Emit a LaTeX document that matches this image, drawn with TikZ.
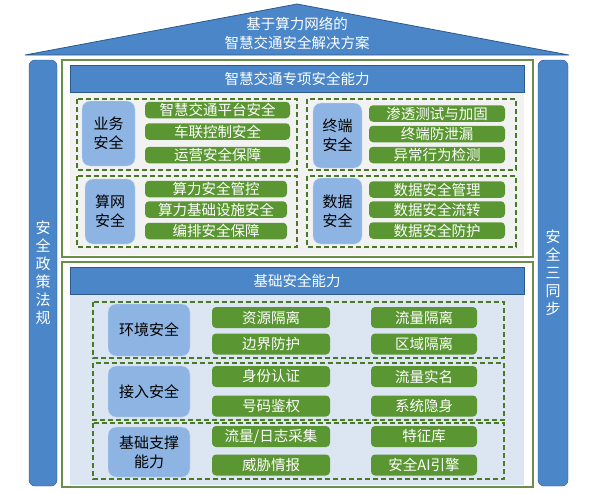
\documentclass[tikz,border=0pt]{standalone}
\usepackage{fontspec}
\setmainfont{Noto Sans CJK SC}
\usetikzlibrary{positioning}
\definecolor{barblue}{HTML}{4A86C8}
\definecolor{edgeblue}{HTML}{2C5A8C}
\definecolor{catblue}{HTML}{8DB4E2}
\definecolor{itemgreen}{HTML}{5A9632}
\definecolor{dashgreen}{HTML}{4A7A26}
\definecolor{framegreen}{HTML}{6A8F4A}
\definecolor{upperfill}{HTML}{F2F2F2}
\definecolor{lowerfill}{HTML}{DCE6F2}

\begin{document}
\begin{tikzpicture}[x=1pt, y=-1pt, font=\fontsize{14.5}{17}\selectfont]
\tikzset{
  roof/.style={fill=barblue, draw=edgeblue, line width=0.8pt},
  sidebar/.style={rectangle, rounded corners=6pt, fill=barblue, draw=edgeblue, text=white, minimum height=426pt, align=center, inner sep=0pt, font=\fontsize{15}{18}\selectfont},
  header/.style={rectangle, fill=barblue, draw=edgeblue, line width=1pt, text=white, minimum width=454pt, minimum height=27pt, inner sep=0pt},
  frame/.style={draw=framegreen, line width=1.2pt},
  group/.style={draw=dashgreen, line width=1.2pt, dash pattern=on 5pt off 3pt},
  cat/.style={rectangle, rounded corners=8pt, fill=catblue, draw=white!55!catblue, align=center, inner sep=0pt, font=\fontsize{15}{19}\selectfont},
  item/.style={rectangle, rounded corners=4pt, fill=itemgreen, text=white, inner sep=0pt},
}
\useasboundingbox (0,0) rectangle (593,493);

% roof
\draw[roof] (25,55) -- (297,4) -- (569,55) -- cycle;
\node[text=white, align=center, font=\fontsize{14.5}{19}\selectfont] (title) at (297,33.5) {基于算力网络的\\智慧交通安全解决方案};

% side pillars
\node[sidebar, minimum width=28pt] (policy) at (43,273) {安\\全\\政\\策\\法\\规};
\node[sidebar, minimum width=30pt] (sync) at (553,273) {安\\全\\三\\同\\步};

% upper part
\draw[frame] (62,60) rectangle (533,257);
\fill[upperfill] (70,65) rectangle (524,255);
\node[header] (special) at (297,78.5) {智慧交通专项安全能力};

\draw[group] (77,99) rectangle (297,170);
\draw[group] (307,99) rectangle (516,170);
\draw[group] (77,176) rectangle (297,247);
\draw[group] (307,176) rectangle (516,247);

\node[cat, minimum width=53pt, minimum height=65pt] (biz) at (108.5,133.5) {业务\\安全};
\node[item, minimum width=145pt, minimum height=16.5pt] (biz1) at (217.5,110) {智慧交通平台安全};
\node[item, minimum width=145pt, minimum height=16.5pt] (biz2) at (217.5,131.5) {车联控制安全};
\node[item, minimum width=145pt, minimum height=16.5pt] (biz3) at (217.5,155) {运营安全保障};

\node[cat, minimum width=49pt, minimum height=65pt] (term) at (337.5,135.5) {终端\\安全};
\node[item, minimum width=136pt, minimum height=16.5pt] (term1) at (437,113.5) {渗透测试与加固};
\node[item, minimum width=136pt, minimum height=16.5pt] (term2) at (437,134) {终端防泄漏};
\node[item, minimum width=136pt, minimum height=16.5pt] (term3) at (437,155) {异常行为检测};

\node[cat, minimum width=50pt, minimum height=65pt] (net) at (110,211.5) {算网\\安全};
\node[item, minimum width=142pt, minimum height=16.5pt] (net1) at (216,189) {算力安全管控};
\node[item, minimum width=142pt, minimum height=16.5pt] (net2) at (216,209.5) {算力基础设施安全};
\node[item, minimum width=142pt, minimum height=16.5pt] (net3) at (216,231) {编排安全保障};

\node[cat, minimum width=49pt, minimum height=66pt] (data) at (337.5,211) {数据\\安全};
\node[item, minimum width=136pt, minimum height=16.5pt] (data1) at (437,189.5) {数据安全管理};
\node[item, minimum width=136pt, minimum height=16.5pt] (data2) at (437,209.5) {数据安全流转};
\node[item, minimum width=136pt, minimum height=16.5pt] (data3) at (437,230.5) {数据安全防护};

% lower part
\draw[frame] (62,262) rectangle (533,487);
\fill[lowerfill] (70,267) rectangle (524,485);
\node[header] (base) at (297,280.5) {基础安全能力};

\draw[group] (93,302) rectangle (504,358);
\draw[group] (93,363) rectangle (504,420);
\draw[group] (93,423) rectangle (504,479);

\node[cat, minimum width=82pt, minimum height=52pt] (env) at (149,330) {环境安全};
\node[item, minimum width=118pt, minimum height=21pt] (env1) at (271,317.5) {资源隔离};
\node[item, minimum width=118pt, minimum height=21pt] (env2) at (271,344) {边界防护};
\node[item, minimum width=106pt, minimum height=21pt] (env3) at (424,317.5) {流量隔离};
\node[item, minimum width=106pt, minimum height=21pt] (env4) at (424,344) {区域隔离};

\node[cat, minimum width=82pt, minimum height=51pt] (acc) at (149,391.5) {接入安全};
\node[item, minimum width=118pt, minimum height=21pt] (acc1) at (271,376.5) {身份认证};
\node[item, minimum width=118pt, minimum height=21pt] (acc2) at (271,406) {号码鉴权};
\node[item, minimum width=106pt, minimum height=21pt] (acc3) at (424,376.5) {流量实名};
\node[item, minimum width=106pt, minimum height=21pt] (acc4) at (424,406) {系统隐身};

\node[cat, minimum width=82pt, minimum height=50pt] (sup) at (149,452) {基础支撑\\能力};
\node[item, minimum width=118pt, minimum height=21pt] (sup1) at (271,436.5) {流量/日志采集};
\node[item, minimum width=118pt, minimum height=21pt] (sup2) at (271,465) {威胁情报};
\node[item, minimum width=106pt, minimum height=21pt] (sup3) at (424,436.5) {特征库};
\node[item, minimum width=106pt, minimum height=21pt] (sup4) at (424,465) {安全AI引擎};
\end{tikzpicture}
\end{document}
